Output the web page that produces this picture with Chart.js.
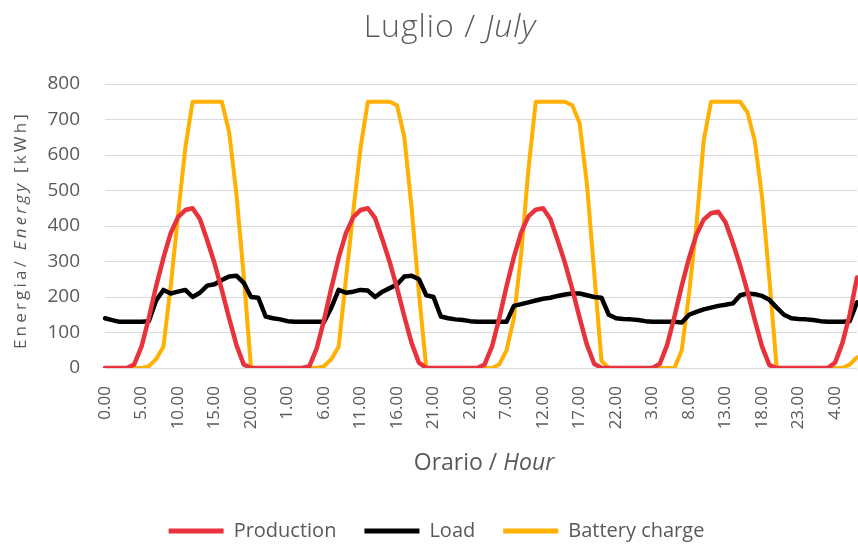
<!DOCTYPE html>
<html>
<head>
<meta charset="utf-8">
<script src="https://cdn.jsdelivr.net/npm/chart.js@4.4.1/dist/chart.umd.min.js"></script>
<style>
  html, body { margin: 0; padding: 0; background: #ffffff; overflow: hidden; }
  #wrap { width: 858px; height: 545px; position: relative; }
</style>
</head>
<body>
<div id="wrap"><canvas id="chart"></canvas></div>
<script>
// ---------- DATA ----------
const hourLabels = [
  "0.00","1.00","2.00","3.00","4.00","5.00","6.00","7.00","8.00","9.00","10.00","11.00",
  "12.00","13.00","14.00","15.00","16.00","17.00","18.00","19.00","20.00","21.00","22.00","23.00",
  "0.00","1.00","2.00","3.00","4.00","5.00","6.00","7.00","8.00","9.00","10.00","11.00",
  "12.00","13.00","14.00","15.00","16.00","17.00","18.00","19.00","20.00","21.00","22.00","23.00",
  "0.00","1.00","2.00","3.00","4.00","5.00","6.00","7.00","8.00","9.00","10.00","11.00",
  "12.00","13.00","14.00","15.00","16.00","17.00","18.00","19.00","20.00","21.00","22.00","23.00",
  "0.00","1.00","2.00","3.00","4.00","5.00","6.00","7.00","8.00","9.00","10.00","11.00",
  "12.00","13.00","14.00","15.00","16.00","17.00","18.00","19.00","20.00","21.00","22.00","23.00",
  "0.00","1.00","2.00","3.00","4.00","5.00","6.00","7.00"
];

const production = [
  0,0,0,0,10,60,140,230,310,380,425,445,450,420,360,295,220,140,65,10,0,0,0,0,
  0,0,0,0,5,55,135,225,310,380,425,445,450,422,362,298,225,145,70,15,0,0,0,0,
  0,0,0,0,10,60,140,230,312,382,427,446,450,420,360,296,222,142,66,12,0,0,0,0,
  0,0,0,0,12,65,145,232,310,375,418,436,440,410,352,288,215,135,60,8,0,0,0,0,
  0,0,0,0,15,70,150,255
];

const load = [
  140,135,130,130,130,130,132,190,220,210,215,220,200,212,232,236,248,258,260,240,200,198,145,140,
  137,132,130,130,130,130,130,170,220,212,215,220,218,200,215,225,235,258,260,250,205,200,145,140,
  137,135,132,130,130,130,130,130,175,180,185,190,195,198,203,207,210,210,205,200,198,150,140,138,
  137,135,132,130,130,130,130,128,150,158,165,170,175,178,182,205,210,208,203,192,170,150,140,138,
  137,135,132,130,130,130,132,185
];

const batteryCharge = [
  0,0,0,0,0,0,5,25,60,230,430,620,750,750,750,750,750,665,490,260,0,0,0,0,
  0,0,0,0,0,0,5,25,60,250,440,620,750,750,750,750,740,650,450,210,0,0,0,0,
  0,0,0,0,0,0,10,50,140,320,560,750,750,750,750,750,740,690,520,270,20,0,0,0,
  0,0,0,0,0,0,0,50,210,400,640,750,750,750,750,750,720,640,480,250,0,0,0,0,
  0,0,0,0,0,0,10,30
];

const seriesNames = ["Production", "Load", "Battery charge"];
const yMin = 0, yMax = 800, yStep = 100;
const xLabelEvery = 5;

const titleSegments  = [{ text: "Luglio / ", italic: false }, { text: "July", italic: true }];
const xTitleSegments = [{ text: "Orario / ", italic: false }, { text: "Hour", italic: true }];
const yTitleSegments = [{ text: "Energia/ ", italic: false }, { text: "Energy", italic: true }, { text: " [kWh]", italic: false }];

// ---------- STYLE ----------
const TEXT = "#595959";
const FONT = "'Open Sans', 'DejaVu Sans', sans-serif";
const COLORS = ["#e8333c", "#000000", "#ffb000"];

function drawRich(ctx, segs, cx, y, size, weight, spacing, baseline) {
  const widths = [];
  let total = 0;
  ctx.textBaseline = baseline;
  ctx.textAlign = "left";
  segs.forEach(s => {
    ctx.font = (s.italic ? "italic " : "") + weight + " " + size + "px " + FONT;
    if ("letterSpacing" in ctx) ctx.letterSpacing = spacing + "px";
    const w = ctx.measureText(s.text).width;
    widths.push(w);
    total += w;
  });
  let x = cx - total / 2;
  segs.forEach((s, i) => {
    ctx.font = (s.italic ? "italic " : "") + weight + " " + size + "px " + FONT;
    if ("letterSpacing" in ctx) ctx.letterSpacing = spacing + "px";
    ctx.fillText(s.text, x, y);
    x += widths[i];
  });
  if ("letterSpacing" in ctx) ctx.letterSpacing = "0px";
}

const richTextPlugin = {
  id: "richText",
  afterLayout(chart) {
    if (chart.legend) { chart.legend.left += 8; chart.legend.right += 8; }
  },
  afterDraw(chart) {
    const { ctx } = chart;
    ctx.save();
    ctx.fillStyle = TEXT;
    drawRich(ctx, titleSegments, 450, 37, 32, 300, 1, "alphabetic");
    drawRich(ctx, xTitleSegments, 484, 463, 23, 400, 0, "middle");
    ctx.translate(21, 230);
    ctx.rotate(-Math.PI / 2);
    drawRich(ctx, yTitleSegments, 0, 0, 17, 400, 3.2, "middle");
    ctx.restore();
  }
};

const ctx = document.getElementById("chart");
new Chart(ctx, {
  type: "line",
  data: {
    labels: hourLabels,
    datasets: [
      { label: seriesNames[0], data: production, borderColor: COLORS[0], backgroundColor: COLORS[0], borderWidth: 4.5 },
      { label: seriesNames[1], data: load, borderColor: COLORS[1], backgroundColor: COLORS[1], borderWidth: 4.5 },
      { label: seriesNames[2], data: batteryCharge, borderColor: COLORS[2], backgroundColor: COLORS[2], borderWidth: 4 }
    ]
  },
  options: {
    responsive: true,
    maintainAspectRatio: false,
    animation: false,
    devicePixelRatio: 1,
    elements: {
      point: { radius: 0, hoverRadius: 0 },
      line: { tension: 0, borderJoinStyle: "round", borderCapStyle: "round", fill: false }
    },
    layout: { padding: { top: 84, left: 0, right: 1, bottom: -6 } },
    scales: {
      x: {
        type: "category",
        offset: false,
        grid: { display: false, drawTicks: false },
        border: { display: false },
        ticks: {
          autoSkip: false,
          maxRotation: 90,
          minRotation: 90,
          padding: 18,
          color: TEXT,
          font: { family: FONT, size: 17 },
          callback: function (value, index) {
            return index % xLabelEvery === 0 ? hourLabels[index] : null;
          }
        },
        afterFit: s => { s.height = 125; s.paddingLeft = 0; s.paddingRight = 0; }
      },
      y: {
        min: yMin,
        max: yMax,
        grid: { color: "#d9d9d9", lineWidth: 1, drawTicks: false },
        border: { display: false },
        ticks: {
          stepSize: yStep,
          padding: 25,
          color: TEXT,
          font: { family: FONT, size: 19 }
        },
        afterFit: s => { s.width = 105; }
      }
    },
    plugins: {
      title: { display: false },
      tooltip: { enabled: false },
      legend: {
        position: "bottom",
        labels: {
          boxWidth: 55,
          boxHeight: 5,
          padding: 28,
          color: TEXT,
          font: { family: FONT, size: 20 },
          generateLabels: chart => Chart.defaults.plugins.legend.labels.generateLabels(chart).map(i => Object.assign(i, { lineWidth: 0 }))
        }
      }
    }
  },
  plugins: [richTextPlugin]
});
</script>
</body>
</html>
